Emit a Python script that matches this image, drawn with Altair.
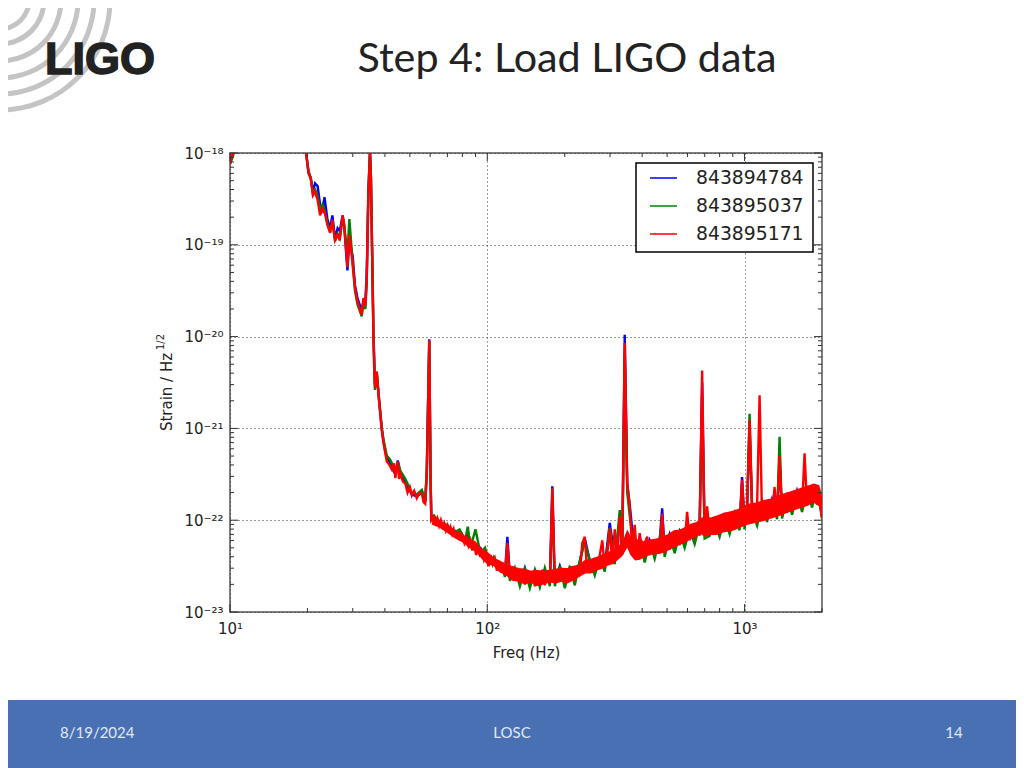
import altair as alt
import pandas as pd

SERIES = ["843894784", "843895037", "843895171"]
COLORS = ["#0000ff", "#008000", "#ff0000"]

# ---- frequencies (Hz) and log10(strain) ----
RED_F = [10, 10.15, 10.35, 10.5, 14, 19.2, 19.8, 20.2, 20.6, 21.0, 21.4, 21.9, 22.4, 22.9, 23.4, 23.9,
         24.5, 25.0, 25.6, 26.2, 26.7, 27.4, 27.8, 28.6, 29.1, 29.8, 30.6, 31.3, 32.5, 33.0, 33.6, 34.0,
         34.5, 35.0, 35.3, 36.1, 36.3, 36.6, 37.2, 37.8, 38.9, 39.5, 40.7, 41.7, 42.6, 43.4, 43.9, 44.9,
         45.4, 45.9, 47, 48, 49, 50, 50.9, 52, 53.2, 54.5, 55.7, 56.5, 57.4, 58.2, 59.5, 60.2, 60.6,
         62, 63, 64, 65, 66, 67, 68, 69, 70, 71, 72, 73, 74, 75, 76, 77, 78, 79, 80, 81.5, 83, 84.5, 86,
         87.5, 89, 90.5, 92, 93.5, 95, 97, 99, 101, 103, 105, 107, 109, 110.5,
         112, 114.5, 117.1, 119.7, 122.4, 125.2, 128, 130.9, 133.9, 136.9, 140, 143.2, 146.4, 149.7,
         153.1, 156.6, 160.1, 163.7, 167.4, 171.2, 175.1, 179, 183, 187.2, 191.4, 195.7, 200.2, 204.7,
         209.3, 214, 218.9, 223.8, 228.9, 234, 239.3, 244.7, 250.3, 255.9, 261.7, 267.6, 273.7, 279.9,
         286.2, 292.7, 299.3, 306, 312.9, 320, 327.3, 334.6, 342.2, 349.9, 357.8, 365.9, 374.2, 382.6,
         391.3, 400.1, 409.2, 418.4, 427.9, 437.5, 447.4, 457.5, 467.9, 478.4, 489.2, 500.3, 511.6,
         523.2, 535, 547.1, 559.4, 572, 585, 598.2, 611.8, 625.6, 639.7, 654.2, 669, 684.1, 699.5,
         715.4, 731.5, 748, 764.9, 782.2, 799.9, 818, 836.4, 855.3, 874.7, 894.4, 914.6, 935.3, 956.4,
         978, 1000, 1023, 1046, 1070, 1094, 1119, 1144, 1170, 1196, 1223, 1251, 1279, 1308, 1338, 1368,
         1399, 1430, 1463, 1496, 1530, 1564, 1600, 1636, 1673, 1711, 1749, 1789, 1829, 1871, 1913,
         1956, 2000]
RED_V = [-18.12, -18.05, -17.98, -17.9, -17.3, -17.85, -18.02, -18.22, -18.28, -18.46, -18.42, -18.51,
         -18.68, -18.60, -18.66, -18.78, -18.87, -18.73, -18.95, -18.89, -18.95, -18.68, -18.78, -19.24,
         -18.89, -19.15, -19.47, -19.62, -19.76, -19.58, -19.66, -19.37, -18.46, -18.0, -18.28, -19.98,
         -20.29, -20.56, -20.38, -20.65, -21.02, -21.16, -21.36, -21.40, -21.45, -21.38, -21.54, -21.36,
         -21.55, -21.49, -21.58, -21.60, -21.70, -21.64, -21.73, -21.68, -21.76, -21.70, -21.71, -21.80,
         -21.82, -21.49, -20.04, -21.56, -22.0,
         -21.96, -22.03, -21.98, -22.06, -22.0, -22.07, -22.03, -22.11, -22.06, -22.14, -22.08, -22.15,
         -22.1, -22.18, -22.12, -22.2, -22.13, -22.22, -22.17, -22.25, -22.19, -22.28, -22.22, -22.33,
         -22.26, -22.38, -22.29, -22.37, -22.33, -22.43, -22.35, -22.5, -22.38, -22.48, -22.42, -22.55,
         -22.44,
         -22.56, -22.46, -22.6, -22.25, -22.62, -22.5, -22.66, -22.52, -22.68, -22.53, -22.7, -22.55,
         -22.67, -22.56, -22.72, -22.55, -22.69, -22.54, -22.71, -22.55, -22.68, -21.65, -22.68, -22.53,
         -22.66, -22.52, -22.69, -22.53, -22.65, -22.5, -22.66, -22.5, -22.6, -22.25, -22.18, -22.56,
         -22.43, -22.57, -22.41, -22.54, -22.38, -22.22, -22.52, -22.36, -22.09, -22.48, -22.1, -22.42,
         -21.96, -22.3, -20.07, -21.6, -21.85, -22.3, -22.05, -22.42, -22.14, -22.4, -22.25, -22.18,
         -22.38, -22.22, -22.37, -22.21, -22.36, -21.93, -22.35, -22.17, -22.32, -22.14, -22.3, -22.12,
         -22.27, -22.1, -22.25, -21.91, -22.22, -22.06, -22.2, -22.03, -22.17, -20.37, -22.17, -21.85,
         -22.15, -22.0, -22.14, -21.98, -22.13, -21.95, -22.12, -21.93, -22.1, -21.92, -22.1, -21.9,
         -22.07, -21.56, -22.06, -21.86, -20.91, -21.86, -22.02, -21.82, -20.64, -22.0, -21.8, -21.98,
         -21.78, -21.96, -21.64, -21.95, -21.3, -21.95, -21.73, -21.92, -21.7, -21.9, -21.68, -21.87,
         -21.67, -21.86, -21.27, -21.84, -21.63, -21.82, -21.62, -21.83, -21.72, -21.97]

LOW_F = [10, 10.3, 10.5, 14, 19.2, 19.8, 20.2, 20.6, 21.0, 21.4, 21.9, 22.4, 22.9, 23.3, 23.9, 24.5, 25.0,
         25.6, 26.2, 26.7, 27.4, 27.8, 28.6, 29.1, 30.0, 30.6, 31.3, 32.5, 33.0, 33.6, 34.0, 34.5, 35.0,
         35.3, 36.1, 36.6, 37.2, 37.8, 38.9, 39.5, 40.7, 41.7, 42.6, 43.9, 44.9, 45.9, 48, 50.9, 53.2,
         55.7, 57.4, 58.2, 59.5, 60.2, 60.6]
BLUE_LOW = [-18.1, -18.0, -17.9, -17.3, -17.85, -18.02, -18.2, -18.27, -18.42, -18.33, -18.36, -18.56,
            -18.62, -18.48, -18.72, -18.82, -18.68, -18.93, -18.82, -18.85, -18.68, -18.8, -19.28, -18.95,
            -19.13, -19.44, -19.58, -19.72, -19.62, -19.6, -19.32, -18.4, -17.98, -18.25, -19.95, -20.52,
            -20.4, -20.62, -21.0, -21.14, -21.33, -21.36, -21.42, -21.5, -21.35, -21.48, -21.58, -21.72,
            -21.74, -21.7, -21.8, -21.47, -20.03, -21.54, -21.98]
GREEN_LOW = [-18.12, -18.02, -17.9, -17.3, -17.85, -18.02, -18.22, -18.27, -18.44, -18.4, -18.46, -18.62,
             -18.56, -18.62, -18.76, -18.86, -18.74, -18.96, -18.88, -18.93, -18.7, -18.8, -19.1, -18.72,
             -19.2, -19.5, -19.65, -19.78, -19.63, -19.7, -19.4, -18.45, -18.0, -18.27, -19.96, -20.58,
             -20.4, -20.63, -21.0, -21.12, -21.3, -21.33, -21.38, -21.48, -21.36, -21.46, -21.55, -21.7,
             -21.72, -21.67, -21.78, -21.45, -20.05, -21.52, -21.98]

COARSE_F = [62, 66, 70, 74, 78, 82, 84, 86, 90, 94,
            98, 102, 106, 110, 114.5, 117.1, 119.7, 122.4, 128, 133.9,
            140, 146.4, 153.1, 160.1, 167.4, 175.1, 179, 183, 191.4, 200.2,
            209.3, 218.9, 228.9, 239.3, 250.3, 261.7, 273.7, 286.2, 299.3, 312.9,
            327.3, 334.6, 342.2, 349.9, 357.8, 374.2, 391.3, 409.2, 427.9, 447.4,
            467.9, 478.4, 489.2, 511.6, 535, 559.4, 585, 611.8, 639.7, 669,
            684.1, 699.5, 731.5, 764.9, 799.9, 836.4, 874.7, 914.6, 956.4, 978,
            1000, 1023, 1046, 1070, 1119, 1170, 1223, 1279, 1338, 1368,
            1399, 1463, 1530, 1600, 1673, 1749, 1829, 1913, 2000]
GREEN_BAND = [-21.95, -22.04, -22.05, -22.14, -22.1, -22.22, -22.07, -22.3, -22.1, -22.36,
              -22.3, -22.48, -22.4, -22.5, -22.48, -22.62, -22.3, -22.66, -22.52, -22.72,
              -22.53, -22.74, -22.54, -22.73, -22.52, -22.72, -21.75, -22.72, -22.5, -22.74,
              -22.5, -22.71, -22.44, -22.24, -22.44, -22.6, -22.4, -22.56, -22.08, -22.48,
              -21.89, -22.38, -20.2, -21.7, -21.95, -22.4, -22.2, -22.46, -22.22, -22.42,
              -22.2, -22.0, -22.4, -22.16, -22.36, -22.13, -22.3, -22.1, -22.26, -22.05,
              -20.64, -22.2, -22.17, -22.02, -22.18, -21.97, -22.15, -21.93, -22.11, -21.6,
              -22.1, -21.86, -20.84, -21.9, -22.06, -21.82, -22.02, -21.79, -21.99, -21.09,
              -21.98, -21.75, -21.94, -21.7, -21.91, -21.66, -21.86, -21.63, -21.98]
BLUE_BAND = [-21.97, -22.02, -22.07, -22.11, -22.13, -22.2, -22.17, -22.25, -22.28, -22.3,
             -22.38, -22.42, -22.47, -22.46, -22.5, -22.58, -22.18, -22.6, -22.54, -22.68,
             -22.52, -22.7, -22.55, -22.66, -22.54, -22.66, -21.63, -22.68, -22.5, -22.68,
             -22.52, -22.65, -22.45, -22.2, -22.44, -22.55, -22.4, -22.5, -22.03, -22.42,
             -22.0, -22.34, -19.98, -21.6, -21.83, -22.38, -22.18, -22.42, -22.22, -22.36,
             -22.22, -21.87, -22.35, -22.15, -22.3, -22.12, -22.26, -22.08, -22.2, -22.04,
             -20.5, -22.16, -22.14, -22.0, -22.12, -21.95, -22.1, -21.92, -22.07, -21.53,
             -22.05, -21.85, -21.0, -21.88, -22.02, -21.8, -21.98, -21.77, -21.95, -21.35,
             -21.92, -21.73, -21.9, -21.68, -21.87, -21.66, -21.82, -21.63, -21.96]

# body of the noise band: the red trace is too dense above 60 Hz to show any gaps
ENV_F = [61, 65, 70, 75, 80, 85, 90, 95, 100, 106, 112, 118, 125, 132, 140, 148, 155, 165, 175, 185,
         195, 205, 215, 228, 240, 252, 265, 280, 292, 305, 320, 335, 350, 360, 375, 392, 410, 430, 455,
         478, 505, 531, 560, 590, 617, 650, 675, 700, 738, 780, 831, 890, 966, 1026, 1100, 1189, 1280,
         1380, 1490, 1603, 1730, 1862, 1950, 2000]
ENV_HI = [-21.97, -22.0, -22.05, -22.11, -22.15, -22.2, -22.23, -22.31, -22.34, -22.41, -22.44, -22.48,
          -22.5, -22.52, -22.53, -22.55, -22.54, -22.55, -22.54, -22.53, -22.52, -22.52, -22.5, -22.48,
          -22.43, -22.42, -22.4, -22.37, -22.35, -22.33, -22.29, -22.24, -22.1, -22.17, -22.22, -22.2,
          -22.24, -22.21, -22.2, -22.18, -22.15, -22.11, -22.1, -22.07, -22.04, -22.02, -21.98, -21.96,
          -21.97, -21.95, -21.92, -21.9, -21.87, -21.82, -21.81, -21.78, -21.76, -21.72, -21.69, -21.66,
          -21.63, -21.6, -21.62, -21.72]
ENV_LO = [-22.05, -22.08, -22.14, -22.2, -22.24, -22.3, -22.34, -22.42, -22.48, -22.5, -22.57, -22.6,
          -22.66, -22.67, -22.7, -22.68, -22.72, -22.7, -22.68, -22.69, -22.67, -22.69, -22.66, -22.62,
          -22.58, -22.58, -22.55, -22.53, -22.5, -22.48, -22.44, -22.39, -22.3, -22.38, -22.44, -22.43,
          -22.4, -22.38, -22.37, -22.36, -22.33, -22.3, -22.27, -22.24, -22.21, -22.18, -22.15, -22.18,
          -22.16, -22.16, -22.13, -22.12, -22.08, -22.05, -22.03, -22.01, -21.98, -21.95, -21.91, -21.88,
          -21.85, -21.81, -21.85, -22.0]

X_MAJOR = [10, 100, 1000]
Y_MAJOR = [1e-18, 1e-19, 1e-20, 1e-21, 1e-22, 1e-23]
X_MINOR = [20, 30, 40, 50, 60, 70, 80, 90, 200, 300, 400, 500, 600, 700, 800, 900, 2000]
Y_MINOR = [m * 10.0 ** e for e in (-19, -20, -21, -22, -23) for m in (2, 3, 4, 5, 6, 7, 8, 9)]

ARC_RADII = [29, 44, 61, 78, 94, 110]

PX, PY = 230, 153   # page position of the plot area
W, H = 592, 459
F = "DejaVu Sans"

xscale = alt.Scale(type="log", domain=[10, 2000], nice=False)
yscale = alt.Scale(type="log", domain=[1e-23, 1e-18], nice=False)
xaxis = alt.Axis(
    values=X_MAJOR, title="Freq (Hz)", titleFont=F, titleFontSize=15, titleFontWeight="normal",
    titleColor="#222222", titlePadding=9, labelFont=F, labelFontSize=15, labelColor="#222222",
    labelExpr="'10' + ['¹','²','³'][round(log(datum.value)/LN10)-1]", labelPadding=9, labelFlush=False,
    tickSize=0, domain=False, grid=True, gridColor="#333333", gridDash=[1, 3], gridWidth=1)
yaxis = alt.Axis(
    values=Y_MAJOR, title=None, labelFont=F, labelFontSize=15, labelColor="#222222", labelFlush=False,
    labelExpr="'10' + ['⁻¹⁸','⁻¹⁹','⁻²⁰','⁻²¹','⁻²²','⁻²³'][round(-log(datum.value)/LN10)-18]",
    labelPadding=7, tickSize=0, domain=False, grid=True, gridColor="#333333", gridDash=[1, 3],
    gridWidth=1)


def frame(f, v, name):
    return pd.DataFrame({"freq": f, "strain": [10.0 ** a for a in v], "series": name})


rows = pd.concat([
    frame(LOW_F + COARSE_F, BLUE_LOW + BLUE_BAND, SERIES[0]),
    frame(LOW_F + COARSE_F, GREEN_LOW + GREEN_BAND, SERIES[1]),
    frame(RED_F, RED_V, SERIES[2]),
])


def label(text, x, y, size, font=F, color="#000000", align="center", angle=0, **kw):
    return alt.Chart(pd.DataFrame({"t": [text]})).mark_text(
        font=font, fontSize=size, color=color, align=align, baseline="middle", angle=angle, **kw
    ).encode(x=alt.value(x - PX), y=alt.value(y - PY), text="t:N")


def box(x0, x1, y0, y1, fill, **kw):
    return alt.Chart(pd.DataFrame({"a": [0]})).mark_rect(fill=fill, **kw).encode(
        x=alt.value(x0 - PX), x2=alt.value(x1 - PX), y=alt.value(y0 - PY), y2=alt.value(y1 - PY))


def xticks(vals, y0, y1):
    return alt.Chart(pd.DataFrame({"freq": vals})).mark_rule(color="#333333", strokeWidth=1).encode(
        x=alt.X("freq:Q", scale=xscale, axis=xaxis), y=alt.value(y0), y2=alt.value(y1))


def yticks(vals, x0, x1):
    return alt.Chart(pd.DataFrame({"strain": vals})).mark_rule(color="#333333", strokeWidth=1).encode(
        y=alt.Y("strain:Q", scale=yscale, axis=yaxis), x=alt.value(x0), x2=alt.value(x1))


lines = alt.Chart(rows).mark_line(strokeWidth=2.4, clip=True, strokeJoin="miter").encode(
    x=alt.X("freq:Q", scale=xscale, axis=xaxis),
    y=alt.Y("strain:Q", scale=yscale, axis=yaxis),
    color=alt.Color("series:N", scale=alt.Scale(domain=SERIES, range=COLORS), legend=None),
    detail="series:N",
)

envelope = alt.Chart(pd.DataFrame({
    "freq": ENV_F,
    "strain": [10.0 ** a for a in ENV_HI],
    "low": [10.0 ** a for a in ENV_LO],
})).mark_area(color="#ff0000", clip=True).encode(
    x=alt.X("freq:Q", scale=xscale, axis=xaxis),
    y=alt.Y("strain:Q", scale=yscale, axis=yaxis),
    y2="low:Q",
)

arcs = alt.Chart(pd.DataFrame({"r": ARC_RADII})).mark_arc(
    theta=1.5708, theta2=3.1416, color="#c4c4c4"
).transform_calculate(r1="datum.r - 2.5", r2="datum.r + 2.5").encode(
    x=alt.value(0 - PX), y=alt.value(0 - PY),
    radius=alt.Radius("r2:Q", scale=None), radius2=alt.Radius2("r1:Q"),
)

legend_parts = [box(636, 813, 163, 252, "#ffffff", stroke="#000000", strokeWidth=1.5)]
for i, (s, c) in enumerate(zip(SERIES, COLORS)):
    yy = 178 + i * 28
    legend_parts.append(
        alt.Chart(pd.DataFrame({"a": [0]})).mark_rule(color=c, strokeWidth=1.5).encode(
            x=alt.value(650 - PX), x2=alt.value(677 - PX), y=alt.value(yy - PY)))
    legend_parts.append(label(s, 696, yy, 18.8, align="left", color="#222222"))

chart = alt.layer(
    box(0, 1016, 700, 768, "#4a70b4"),
    arcs,
    label("LIGO", 100, 60, 45, font="Liberation Sans", color="#222222", fontWeight="bold",
          stroke="#222222", strokeWidth=1.5),
    label("Step 4: Load LIGO data", 567, 60, 41.3, font="Lato", color="#222222"),
    lines,
    envelope,
    xticks(X_MAJOR, 0, 8), xticks(X_MAJOR, H - 8, H),
    xticks(X_MINOR, 0, 4), xticks(X_MINOR, H - 4, H),
    yticks(Y_MAJOR, 0, 8), yticks(Y_MAJOR, W - 8, W),
    yticks(Y_MINOR, 0, 4), yticks(Y_MINOR, W - 4, W),
    *legend_parts,
    label("Strain / Hz", 167, 392, 15, angle=270, color="#222222"),
    label("1/2", 161, 342, 10, angle=270, color="#222222"),
    label("8/19/2024", 60, 733, 15, font="Lato", color="#e0e8f5", align="left"),
    label("LOSC", 512, 733, 15, font="Lato", color="#e0e8f5"),
    label("14", 954, 733, 15, font="Lato", color="#e0e8f5"),
).resolve_scale(color="independent").properties(
    width=W, height=H,
    autosize=alt.AutoSizeParams(type="none"),
    padding={"left": PX - 8, "top": PY - 8, "right": 1016 - PX - W, "bottom": 768 - PY - H},
    background="#ffffff",
).configure_view(stroke="#555555", strokeWidth=1.5)

chart.save("out.html", embed_options={"renderer": "svg", "actions": False})
